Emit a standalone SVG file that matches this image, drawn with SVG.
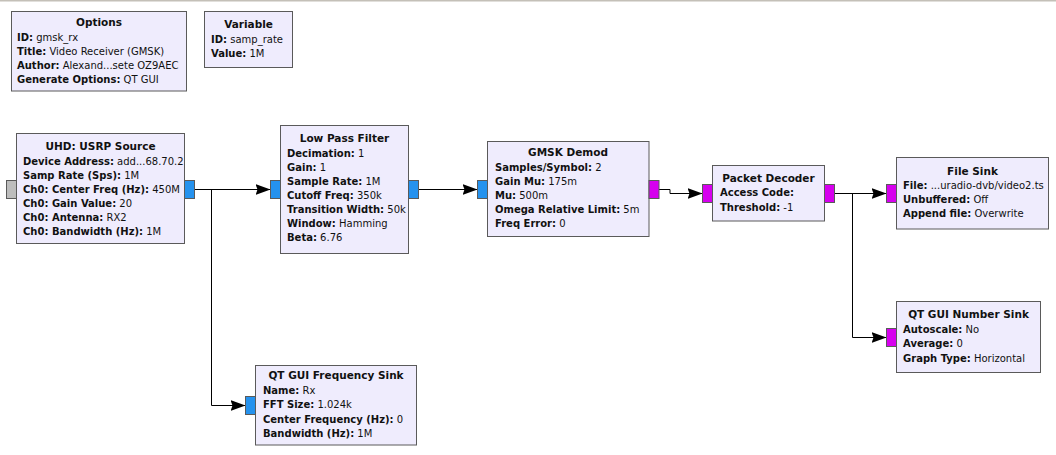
<svg xmlns="http://www.w3.org/2000/svg" width="1056" height="455" viewBox="0 0 1056 455">
<style>
.blk{fill:#EFECFD;stroke:#5A5A5A;stroke-width:1}
.t{font-family:"DejaVu Sans",sans-serif;font-size:10px;fill:#111}
.ti{font-family:"DejaVu Sans",sans-serif;font-size:10.5px;font-weight:bold;fill:#111;text-anchor:middle}
.b{font-weight:bold}
.pg{fill:#BDBDBD;stroke:#5A5A5A;stroke-width:1}
.pb{fill:#2592EE;stroke:#5A5A5A;stroke-width:1}
.pm{fill:#D600EE;stroke:#5A5A5A;stroke-width:1}
.c{fill:none;stroke:#000;stroke-width:1;marker-end:url(#ah)}
</style>
<defs>
<marker id="ah" markerUnits="userSpaceOnUse" markerWidth="16" markerHeight="12" refX="15" refY="5.5" orient="auto">
<path d="M0,0 L15,5.5 L0,11 L2,5.5 z" fill="#000"/>
</marker>
</defs>
<rect x="0" y="0" width="1056" height="455" fill="#FFFFFF"/>
<rect x="0" y="0" width="1056" height="1.5" fill="#C4C0B8"/>

<g id="connectors">
<path class="c" d="M194.5,189.5 H270.5"/>
<path class="c" d="M211.5,189.5 V405.5 H245.5"/>
<path class="c" d="M418.5,189.5 H477.5"/>
<path class="c" d="M659,189.5 H670 V193.5 H702.5"/>
<path class="c" d="M834.5,193.5 H886.5"/>
<path class="c" d="M852.5,193.5 V337.5 H886.5"/>
</g>

<g id="options">
<rect class="blk" x="11.5" y="11.5" width="175" height="79.5"/>
<text class="ti" x="99" y="26">Options</text>
<text class="t" x="17" y="40.5"><tspan class="b">ID:</tspan> gmsk_rx</text>
<text class="t" x="17" y="54.7"><tspan class="b">Title:</tspan> Video Receiver (GMSK)</text>
<text class="t" x="17" y="69"><tspan class="b">Author:</tspan> Alexand...sete OZ9AEC</text>
<text class="t" x="17" y="83.2"><tspan class="b">Generate Options:</tspan> QT GUI</text>
</g>

<g id="variable">
<rect class="blk" x="204.5" y="11.5" width="88" height="56"/>
<text class="ti" x="248.5" y="28">Variable</text>
<text class="t" x="211" y="43"><tspan class="b">ID:</tspan> samp_rate</text>
<text class="t" x="211" y="57"><tspan class="b">Value:</tspan> 1M</text>
</g>

<g id="usrp_source">
<rect class="pg" x="6.5" y="180.5" width="10" height="18"/>
<rect class="blk" x="16.5" y="133.5" width="168" height="110"/>
<rect class="pb" x="184.5" y="180.5" width="10" height="18"/>
<text class="ti" x="100.5" y="150">UHD: USRP Source</text>
<text class="t" x="23" y="164.5"><tspan class="b">Device Address:</tspan> add...68.70.2</text>
<text class="t" x="23" y="178.5"><tspan class="b">Samp Rate (Sps):</tspan> 1M</text>
<text class="t" x="23" y="192.5"><tspan class="b">Ch0: Center Freq (Hz):</tspan> 450M</text>
<text class="t" x="23" y="206.5"><tspan class="b">Ch0: Gain Value:</tspan> 20</text>
<text class="t" x="23" y="220.5"><tspan class="b">Ch0: Antenna:</tspan> RX2</text>
<text class="t" x="23" y="234.5"><tspan class="b">Ch0: Bandwidth (Hz):</tspan> 1M</text>
</g>

<g id="low_pass_filter">
<rect class="pb" x="270.5" y="180.5" width="10" height="18"/>
<rect class="blk" x="280.5" y="125.5" width="128" height="128"/>
<rect class="pb" x="408.5" y="180.5" width="10" height="18"/>
<text class="ti" x="344.5" y="142">Low Pass Filter</text>
<text class="t" x="287" y="156.5"><tspan class="b">Decimation:</tspan> 1</text>
<text class="t" x="287" y="170.5"><tspan class="b">Gain:</tspan> 1</text>
<text class="t" x="287" y="184.5"><tspan class="b">Sample Rate:</tspan> 1M</text>
<text class="t" x="287" y="198.5"><tspan class="b">Cutoff Freq:</tspan> 350k</text>
<text class="t" x="287" y="212.5"><tspan class="b">Transition Width:</tspan> 50k</text>
<text class="t" x="287" y="226.5"><tspan class="b">Window:</tspan> Hamming</text>
<text class="t" x="287" y="240.5"><tspan class="b">Beta:</tspan> 6.76</text>
</g>

<g id="gmsk_demod">
<rect class="pb" x="477.5" y="180.5" width="10" height="18"/>
<rect class="blk" x="487.5" y="141.5" width="161.5" height="95"/>
<rect class="pm" x="649" y="180.5" width="10" height="18"/>
<text class="ti" x="568" y="156">GMSK Demod</text>
<text class="t" x="495" y="170.5"><tspan class="b">Samples/Symbol:</tspan> 2</text>
<text class="t" x="495" y="184.5"><tspan class="b">Gain Mu:</tspan> 175m</text>
<text class="t" x="495" y="198.5"><tspan class="b">Mu:</tspan> 500m</text>
<text class="t" x="495" y="212.5"><tspan class="b">Omega Relative Limit:</tspan> 5m</text>
<text class="t" x="495" y="226.5"><tspan class="b">Freq Error:</tspan> 0</text>
</g>

<g id="packet_decoder">
<rect class="pm" x="702.5" y="184.5" width="10" height="18"/>
<rect class="blk" x="712.5" y="165.5" width="112" height="55.5"/>
<rect class="pm" x="824.5" y="184.5" width="10" height="18"/>
<text class="ti" x="768.5" y="181.5">Packet Decoder</text>
<text class="t" x="720" y="196"><tspan class="b">Access Code:</tspan></text>
<text class="t" x="720" y="210.5"><tspan class="b">Threshold:</tspan> -1</text>
</g>

<g id="file_sink">
<rect class="pm" x="886.5" y="184.5" width="10" height="18"/>
<rect class="blk" x="896.5" y="157.5" width="152" height="71.5"/>
<text class="ti" x="972.5" y="175">File Sink</text>
<text class="t" x="903" y="189"><tspan class="b">File:</tspan> ...uradio-dvb/video2.ts</text>
<text class="t" x="903" y="203"><tspan class="b">Unbuffered:</tspan> Off</text>
<text class="t" x="903" y="217"><tspan class="b">Append file:</tspan> Overwrite</text>
</g>

<g id="number_sink">
<rect class="pm" x="886.5" y="328.5" width="10" height="18"/>
<rect class="blk" x="896.5" y="301.5" width="144" height="71"/>
<text class="ti" x="968.5" y="317.5">QT GUI Number Sink</text>
<text class="t" x="903" y="333"><tspan class="b">Autoscale:</tspan> No</text>
<text class="t" x="903" y="347"><tspan class="b">Average:</tspan> 0</text>
<text class="t" x="903" y="361.5"><tspan class="b">Graph Type:</tspan> Horizontal</text>
</g>

<g id="freq_sink">
<rect class="pb" x="245.5" y="396.5" width="10" height="18"/>
<rect class="blk" x="255.5" y="365.5" width="161" height="79.5"/>
<text class="ti" x="336" y="379">QT GUI Frequency Sink</text>
<text class="t" x="263" y="394"><tspan class="b">Name:</tspan> Rx</text>
<text class="t" x="263" y="408"><tspan class="b">FFT Size:</tspan> 1.024k</text>
<text class="t" x="263" y="422.5"><tspan class="b">Center Frequency (Hz):</tspan> 0</text>
<text class="t" x="263" y="436.5"><tspan class="b">Bandwidth (Hz):</tspan> 1M</text>
</g>
</svg>
